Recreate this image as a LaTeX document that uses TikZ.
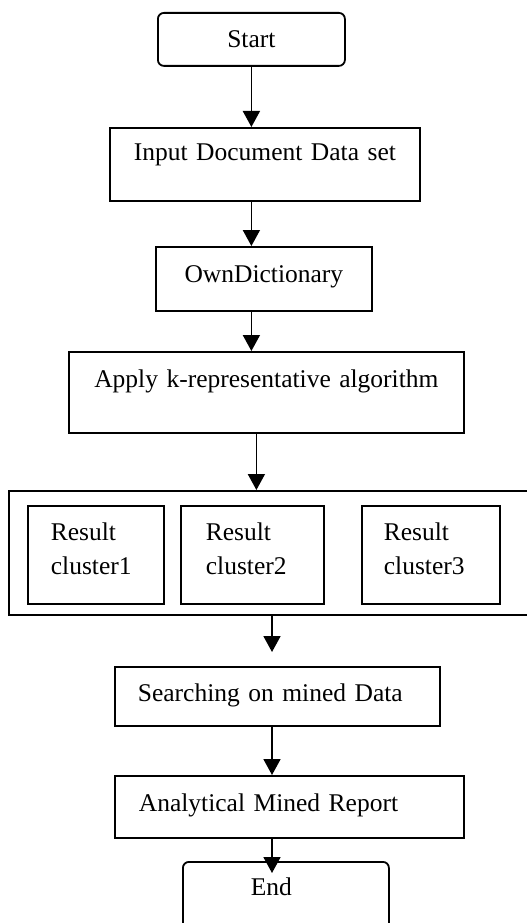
\documentclass[tikz,border=0pt]{standalone}
\usepackage{fontspec}
\setmainfont{Liberation Serif}
\usetikzlibrary{arrows.meta}

\begin{document}
\begin{tikzpicture}[x=1pt, y=-1pt,
    font=\fontsize{25.5}{34}\selectfont,
    box/.style={draw, line width=1.8pt, anchor=north west, inner sep=0pt, align=center},
    padbox/.style={box, inner xsep=#1, align=left},
    term/.style={box, rounded corners=6pt},
    flow/.style={-{Triangle[length=16pt, width=17pt]}, line width=1.8pt}]
      \useasboundingbox (0,0) rectangle (527,923);
      \clip (0,0) rectangle (527,923);

      \node[term, text width=187pt, text height=35pt, text depth=18pt] (start) at (157,12) {Start};
      \node[box, text width=310pt, text height=33pt, text depth=40pt] (input) at (109,127) {Input Document Data set};
      \node[box, text width=216pt, text height=36pt, text depth=28pt] (dict) at (155,246) {OwnDictionary};
      \node[box, text width=395pt, text height=36pt, text depth=45pt] (apply) at (68,351) {Apply k-representative algorithm};

      % frame round the clusters, it runs past the right edge
      \node[box, minimum width=540pt, minimum height=124pt] (results) at (8,490) {};
      \node[padbox=23pt, text width=90pt, text height=35pt, text depth=63pt] (cluster1) at (27,505) {Result\\cluster1};
      \node[padbox=25pt, text width=93pt, text height=35pt, text depth=63pt] (cluster2) at (180,505) {Result\\cluster2};
      \node[padbox=22pt, text width=94pt, text height=35pt, text depth=63pt] (cluster3) at (361,505) {Result\\cluster3};

      \node[padbox=23pt, text width=279pt, text height=35pt, text depth=24pt] (search) at (114,666) {Searching on mined Data};
      \node[padbox=24pt, text width=301pt, text height=36pt, text depth=26pt] (report) at (114,775) {Analytical Mined Report};
      \node[padbox=68pt, rounded corners=6pt, text width=70pt, text height=34pt, text depth=45pt] (end) at (182,861) {End};

      % arrows
      \coordinate (axis) at (272,0);
      \coordinate (split) at ([xshift=-10pt]apply.south);
      \draw[flow] (start.south) -- (start.south |- input.north);
      \draw[flow] (input.south -| start.south) -- (dict.north -| start.south);
      \draw[flow] (dict.south -| start.south) -- (apply.north -| start.south);
      \draw[flow] (split) -- (split |- results.north);
      \draw[flow] (results.south -| axis) -- ([yshift=14pt]search.north -| axis);
      \draw[flow] (search.south -| axis) -- (report.north -| axis);
      \draw[flow] (report.south -| axis) -- ([yshift=-12pt]end.north -| axis);
    \end{tikzpicture}
\end{document}
